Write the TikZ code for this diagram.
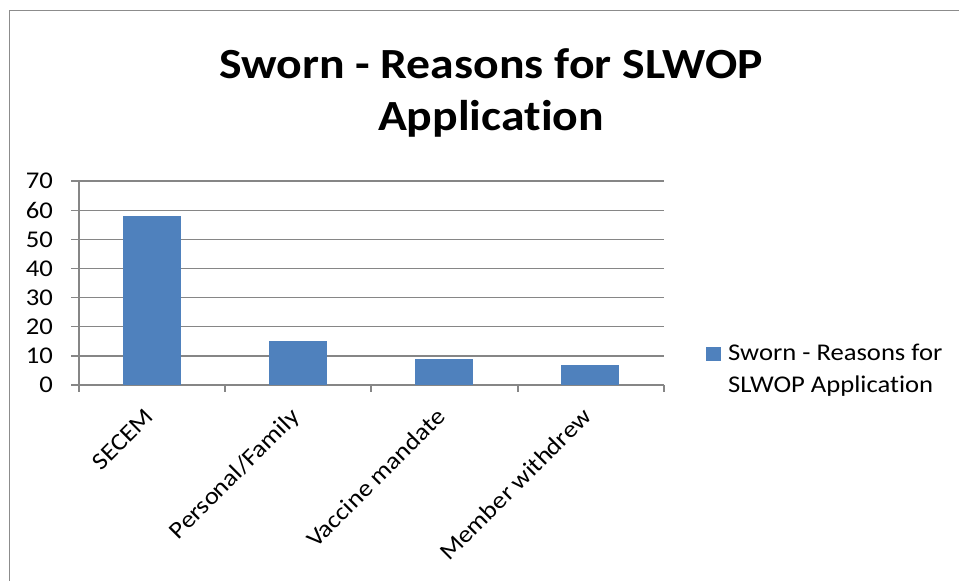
\documentclass[tikz,border=0pt]{standalone}
\usepackage{fontspec}
\setmainfont{Carlito}[FakeStretch=1.11, Ligatures=NoCommon]

\definecolor{barblue}{HTML}{4F81BD}
\definecolor{gridgray}{HTML}{868686}
\definecolor{framegray}{HTML}{8C8C8C}

\tikzset{
  gridline/.style={gridgray, line width=1.3pt},
  barfill/.style={fill=barblue, draw=none},
  ticklabel/.style={font=\fontsize{24}{29}\selectfont, inner sep=0pt},
  catlabel/.style={font=\fontsize{24}{29}\selectfont, inner sep=0pt, rotate=45, anchor=base east},
  titletext/.style={font=\fontsize{43}{52}\selectfont\bfseries, inner sep=0pt, anchor=base}
}

\begin{document}
\begin{tikzpicture}[x=1pt,y=-1pt]
            \useasboundingbox (0,0) rectangle (959,581);

            %frame
            \draw[framegray, line width=1.3pt] (9.5,581) -- (9.5,10.5) -- (959,10.5);

            %title
            \node[titletext] (title1) at (491,78) {Sworn - Reasons for SLWOP};

            \node[titletext] (title2) at (491,130) {Application};

            %grid
            \draw[gridline] (71,385) -- (664,385);
            \draw[gridline] (71,355.9) -- (664,355.9);
            \draw[gridline] (71,326.7) -- (664,326.7);
            \draw[gridline] (71,297.6) -- (664,297.6);
            \draw[gridline] (71,268.4) -- (664,268.4);
            \draw[gridline] (71,239.3) -- (664,239.3);
            \draw[gridline] (71,210.2) -- (664,210.2);
            \draw[gridline] (71,181) -- (664,181);

            %axis and ticks
            \draw[gridline] (79,181) -- (79,392);
            \draw[gridline] (225,385) -- (225,392);
            \draw[gridline] (371,385) -- (371,392);
            \draw[gridline] (518,385) -- (518,392);
            \draw[gridline] (664,385) -- (664,392);

            \node[ticklabel, anchor=east] (y0) at (53,385) {0};
            \node[ticklabel, anchor=east] (y10) at (53,355.9) {10};
            \node[ticklabel, anchor=east] (y20) at (53,326.7) {20};
            \node[ticklabel, anchor=east] (y30) at (53,297.6) {30};
            \node[ticklabel, anchor=east] (y40) at (53,268.4) {40};
            \node[ticklabel, anchor=east] (y50) at (53,239.3) {50};
            \node[ticklabel, anchor=east] (y60) at (53,210.2) {60};
            \node[ticklabel, anchor=east] (y70) at (53,181) {70};

            %bars
            \fill[barfill] (123,385) rectangle (181,216);

            \fill[barfill] (269,385) rectangle (327,341.3);

            \fill[barfill] (415,385) rectangle (473,358.8);

            \fill[barfill] (561,385) rectangle (619,364.6);

            %categories
            \node[catlabel] (secem) at (155,418) {SECEM};

            \node[catlabel] (personal) at (301,418) {Personal/Family};

            \node[catlabel] (vaccine) at (447,418) {Vaccine mandate};

            \node[catlabel] (withdrew) at (593,418) {Member withdrew};

            %legend
            \fill[barfill] (706,347) rectangle (721,361);

            \node[ticklabel, anchor=base west] (legend1) at (728,360) {Sworn - Reasons for};

            \node[ticklabel, anchor=base west] (legend2) at (728,392) {SLWOP Application};
        \end{tikzpicture}
\end{document}
